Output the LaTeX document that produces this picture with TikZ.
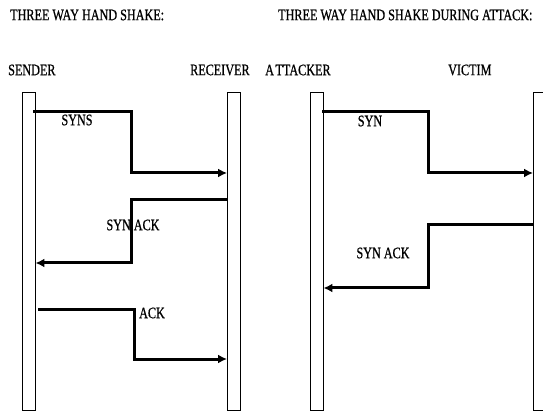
\documentclass[tikz,border=0pt]{standalone}
\usepackage{fontspec}
\setmainfont{Liberation Serif}[FakeBold=0.8]
\usetikzlibrary{arrows.meta}
\newcommand{\cond}[1]{\scalebox{0.76}[1]{#1}}
\begin{document}
\begin{tikzpicture}[x=1pt,y=-1pt,
  lbl/.style={inner sep=0pt, font=\fontsize{16}{16}\selectfont},
  bar/.style={draw=black, line width=0.9pt, fill=white, inner sep=0pt, minimum width=13pt, minimum height=318pt},
  msg/.style={line width=3pt, -{Latex[length=9pt,width=9pt]}}]
\useasboundingbox (0,0) rectangle (543,411);
\fill[white] (0,0) rectangle (543,411);
% titles
\node[lbl, anchor=west] (t1) at (10,15) {\cond{THREE WAY HAND SHAKE:}};
\node[lbl, anchor=west] (t2) at (278,15) {\cond{THREE WAY HAND SHAKE DURING ATTACK:}};
\node[lbl, anchor=west] (hs) at (8,70) {\cond{SENDER}};
\node[lbl, anchor=west] (hr) at (190,70) {\cond{RECEIVER}};
\node[lbl, anchor=west] (ha) at (265,70) {\cond{A\kern2pt TTACKER}};
\node[lbl, anchor=west] (hv) at (448,70) {\cond{VICTIM}};
% bars
\node[bar] (snd) at (28.5,251) {};
\node[bar] (rcv) at (234,251) {};
\node[bar] (att) at (316.5,251) {};
\node[bar] (vic) at (540,251) {};
% left handshake
\coordinate (s1) at (131,112);
\coordinate (s2) at (131,200);
\coordinate (s3) at (134,310);
\draw[msg] ([xshift=-2pt]snd.east |- s1) -- (s1) |- (rcv.west |- 0,173);
\draw[msg] (rcv.west |- s2) -- (s2) |- (snd.east |- 0,263);
\draw[msg] ([xshift=3pt]snd.east |- s3) -- (s3) |- (rcv.west |- 0,359);
\node[lbl] (l1) at (77,120) {\cond{SYNS}};
\node[lbl] (l2) at (133,225) {\cond{SYN ACK}};
\node[lbl] (l3) at (152,313) {\cond{ACK}};
% right handshake
\coordinate (a1) at (428,112);
\coordinate (a2) at (428,225);
\draw[msg] ([xshift=-1pt]att.east |- a1) -- (a1) |- (vic.west |- 0,173);
\draw[msg] (vic.west |- a2) -- (a2) |- (att.east |- 0,288);
\node[lbl] (r1) at (370,121) {\cond{SYN}};
\node[lbl] (r2) at (383,253) {\cond{SYN ACK}};
\end{tikzpicture}
\end{document}
